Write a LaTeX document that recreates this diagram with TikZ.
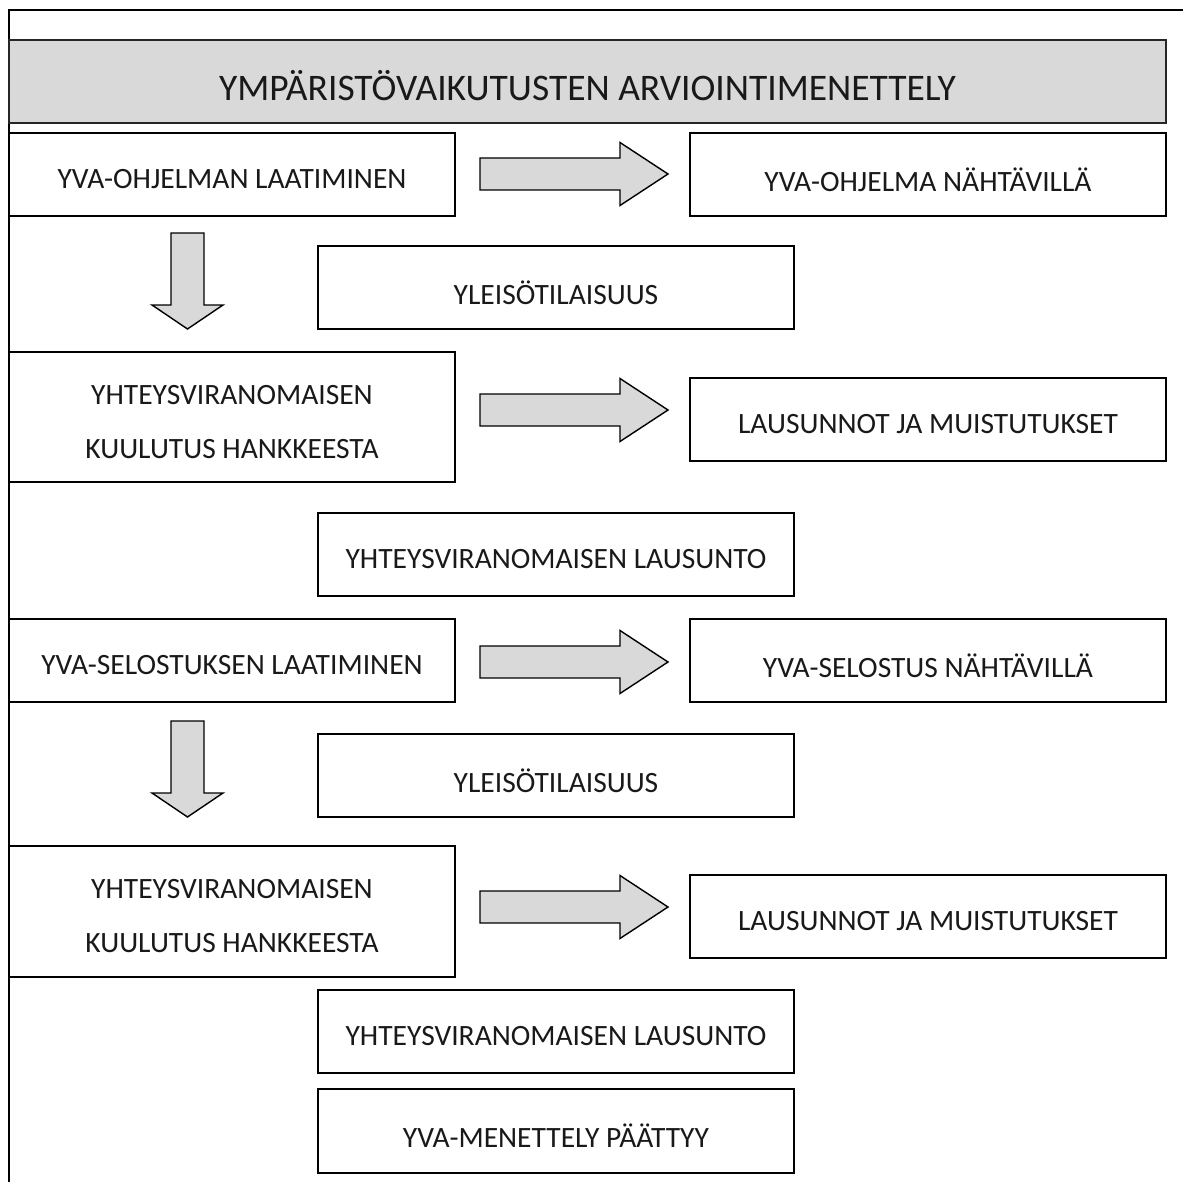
\documentclass[tikz,border=0pt]{standalone}
\usepackage{fontspec}
\setmainfont{Carlito}
\definecolor{boxgray}{HTML}{D9D9D9}
\begin{document}
\begin{tikzpicture}[x=1pt,y=-1pt,
  every node/.style={inner sep=0pt, outer sep=0pt},
  stepbox/.style={draw=black, line width=1.6pt, fill=white},
  steptext/.style={align=center, font=\fontsize{29.5}{54}\selectfont, text=black!90},
  titlebox/.style={draw=black!85, line width=1.4pt, fill=boxgray},
  titletext/.style={font=\fontsize{37.5}{44}\selectfont, text=black!90},
  blockarrow/.style={draw=black, line width=1.4pt, fill=boxgray, line join=miter},
  frame/.style={draw=black, line width=1.8pt}
]
\useasboundingbox (0,0) rectangle (1183,1182);
% outer frame
\draw[frame] (9,1190) -- (9,10) -- (1190,10);
% title
\node[titlebox, minimum width=1157, minimum height=83] (title) at (587.5,81.5) {};
\node[titletext] (titlet) at ([yshift=-4pt]title.center) {YMPÄRISTÖVAIKUTUSTEN ARVIOINTIMENETTELY};
% boxes
\node[stepbox, minimum width=446, minimum height=83] (b1) at (232,174.5) {};
\node[stepbox, minimum width=476, minimum height=83] (b2) at (928,174.5) {};
\node[stepbox, minimum width=476, minimum height=83] (b3) at (556,287.5) {};
\node[stepbox, minimum width=446, minimum height=130] (b4) at (232,417) {};
\node[stepbox, minimum width=476, minimum height=83] (b5) at (928,419.5) {};
\node[stepbox, minimum width=476, minimum height=83] (b6) at (556,554.5) {};
\node[stepbox, minimum width=446, minimum height=83] (b7) at (232,660.5) {};
\node[stepbox, minimum width=476, minimum height=83] (b8) at (928,660.5) {};
\node[stepbox, minimum width=476, minimum height=83] (b9) at (556,775.5) {};
\node[stepbox, minimum width=446, minimum height=131] (b10) at (232,911.5) {};
\node[stepbox, minimum width=476, minimum height=83] (b11) at (928,916.5) {};
\node[stepbox, minimum width=476, minimum height=83] (b12) at (556,1031.5) {};
\node[stepbox, minimum width=476, minimum height=84] (b13) at (556,1131) {};
% texts
\node[steptext] (t1) at ([yshift=-5pt]b1.center) {YVA-OHJELMAN LAATIMINEN};
\node[steptext] (t2) at ([yshift=-5pt]b2.center) {YVA-OHJELMA NÄHTÄVILLÄ};
\node[steptext] (t3) at ([yshift=-5pt]b3.center) {YLEISÖTILAISUUS};
\node[steptext] (t4) at ([yshift=-5pt]b4.center) {YHTEYSVIRANOMAISEN\\KUULUTUS HANKKEESTA};
\node[steptext] (t5) at ([yshift=-5pt]b5.center) {LAUSUNNOT JA MUISTUTUKSET};
\node[steptext] (t6) at ([yshift=-5pt]b6.center) {YHTEYSVIRANOMAISEN LAUSUNTO};
\node[steptext] (t7) at ([yshift=-5pt]b7.center) {YVA-SELOSTUKSEN LAATIMINEN};
\node[steptext] (t8) at ([yshift=-5pt]b8.center) {YVA-SELOSTUS NÄHTÄVILLÄ};
\node[steptext] (t9) at ([yshift=-5pt]b9.center) {YLEISÖTILAISUUS};
\node[steptext] (t10) at ([yshift=-5pt]b10.center) {YHTEYSVIRANOMAISEN\\KUULUTUS HANKKEESTA};
\node[steptext] (t11) at ([yshift=-5pt]b11.center) {LAUSUNNOT JA MUISTUTUKSET};
\node[steptext] (t12) at ([yshift=-5pt]b12.center) {YHTEYSVIRANOMAISEN LAUSUNTO};
\node[steptext] (t13) at ([yshift=-5pt]b13.center) {YVA-MENETTELY PÄÄTTYY};
% right block arrows
\foreach \yc in {174, 410, 662, 907}{
  \draw[blockarrow] (480,\yc-16) -- (620,\yc-16) -- (620,\yc-31.5) -- (668,\yc)
    -- (620,\yc+31.5) -- (620,\yc+16) -- (480,\yc+16) -- cycle;
}
% down block arrows
\foreach \yt in {233, 721}{
  \draw[blockarrow] (171,\yt) -- (204,\yt) -- (204,\yt+72) -- (223,\yt+72) -- (187.5,\yt+96)
    -- (152,\yt+72) -- (171,\yt+72) -- cycle;
}
\end{tikzpicture}
\end{document}
